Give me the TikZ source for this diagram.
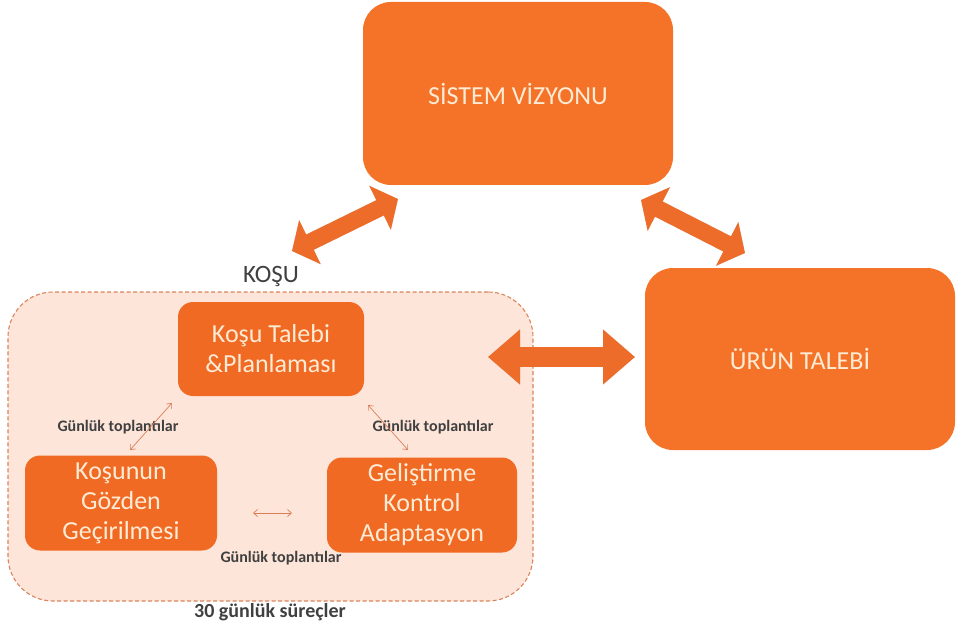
\documentclass[tikz,border=0pt]{standalone}
\usepackage{fontspec}
\setmainfont{Carlito}
\usetikzlibrary{arrows.meta}
\definecolor{boxorange}{HTML}{F47328}
\definecolor{arroworange}{HTML}{EE6C2A}
\definecolor{innerorange}{HTML}{F06A24}
\definecolor{peach}{HTML}{FDE5D9}
\definecolor{dashcol}{HTML}{D9845C}
\definecolor{creamtext}{HTML}{FDEBD5}
\definecolor{graytext}{HTML}{404040}
\definecolor{thinarrow}{HTML}{D97F58}
\begin{document}
\begin{tikzpicture}[x=1pt,y=-1pt,
  bigbox/.style={fill=boxorange, rounded corners=28pt, text=creamtext, inner sep=0pt,
    font=\fontsize{26}{30}\selectfont, align=center},
  smallbox/.style={fill=innerorange, rounded corners=15pt, text=creamtext, inner sep=0pt,
    font=\fontsize{26}{30}\selectfont, align=center},
  container/.style={fill=peach, draw=dashcol, dashed, dash pattern=on 4pt off 2.5pt,
    line width=1.1pt, rounded corners=45pt, inner sep=0pt},
  blockarrow/.style={draw=arroworange, line width=17pt,
    {Triangle[length=20pt,width=48pt]}-{Triangle[length=20pt,width=48pt]}},
  wideblockarrow/.style={draw=arroworange, line width=20pt,
    {Triangle[length=32pt,width=53pt]}-{Triangle[length=32pt,width=53pt]}},
  shadowarrow/.style={draw=black!50, opacity=0.3},
  thinlink/.style={draw=thinarrow, line width=0.7pt,
    {Straight Barb[length=4pt,width=7pt]}-{Straight Barb[length=4pt,width=7pt]}},
  meetlabel/.style={text=graytext, font=\bfseries\fontsize{16}{18}\selectfont, inner sep=0pt},
  caption/.style={text=graytext, inner sep=0pt}
]
\useasboundingbox (0,0) rectangle (962,623);

% container
\node[container, minimum width=525pt, minimum height=309pt] (kosu) at (270.5,446.5) {};
\node[caption, font=\fontsize{25}{28}\selectfont] (kosulabel) at (271,276) {KOŞU};
\node[caption, font=\bfseries\fontsize{20}{22}\selectfont] (surec) at (270,612) {30 günlük süreçler};

% big boxes
\node[bigbox, minimum width=310pt, minimum height=183pt] (sistem) at (518,93.5) {SİSTEM VİZYONU};
\node[bigbox, minimum width=310pt, minimum height=182pt] (urun) at (800,359) {ÜRÜN TALEBİ};

% inner boxes
\node[smallbox, minimum width=186pt, minimum height=94pt] (talep) at (271,349) {Koşu Talebi\\\&Planlaması};
\node[smallbox, minimum width=192pt, minimum height=95pt] (gozden) at (121,503) {Koşunun\\Gözden\\Geçirilmesi};
\node[smallbox, minimum width=190pt, minimum height=95pt] (gelis) at (422,505) {Geliştirme\\Kontrol\\Adaptasyon};

% big arrows
\coordinate (a1s) at (292,251);
\coordinate (a1e) at (398,199);
\coordinate (a2s) at (641,200);
\coordinate (a2e) at (745,253);
\coordinate (a3s) at (488,357);
\coordinate (a3e) at (635,357);
\begin{scope}[shift={(-1.5,2)}]
\draw[blockarrow, shadowarrow] (a1s) -- (a1e);
\draw[blockarrow, shadowarrow] (a2s) -- (a2e);
\draw[wideblockarrow, shadowarrow] (a3s) -- (a3e);
\end{scope}
\draw[blockarrow] (a1s) -- (a1e);
\draw[blockarrow] (a2s) -- (a2e);
\draw[wideblockarrow] (a3s) -- (a3e);

% small links
\coordinate (l1s) at (172,403);
\coordinate (l1e) at (130,450);
\coordinate (l2s) at (368,405);
\coordinate (l2e) at (408,450);
\coordinate (l3s) at (253,513);
\coordinate (l3e) at (292,513);
\node[meetlabel] (m1) at (118,427) {Günlük toplantılar};
\node[meetlabel] (m2) at (433,427) {Günlük toplantılar};
\node[meetlabel] (m3) at (281,558) {Günlük toplantılar};
\draw[thinlink] (l1s) -- (l1e);
\draw[thinlink] (l2s) -- (l2e);
\draw[thinlink] (l3s) -- (l3e);
\end{tikzpicture}
\end{document}
